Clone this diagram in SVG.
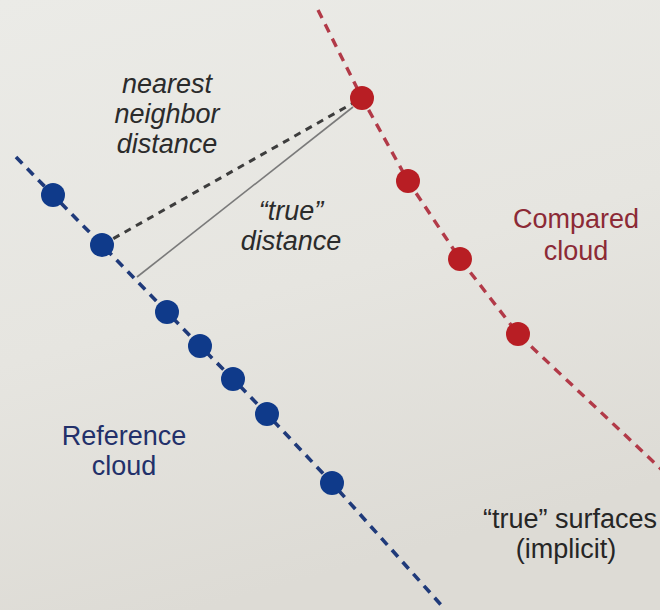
<svg xmlns="http://www.w3.org/2000/svg" width="660" height="610" viewBox="0 0 660 610">
  <defs>
    <linearGradient id="paper" x1="0" y1="0" x2="0.3" y2="1">
      <stop offset="0" stop-color="#ebebe7"/>
      <stop offset="0.55" stop-color="#e6e5e0"/>
      <stop offset="1" stop-color="#dddbd5"/>
    </linearGradient>
    <style>
      .lbl { font-family: "Liberation Sans", Arial, Helvetica, sans-serif; font-size: 27px; text-anchor: middle; }
      .it { font-style: italic; fill: #2b2b2b; }
      .ref { fill: #22306a; }
      .cmp { fill: #8c2a36; }
      .plain { fill: #262626; }
      .surf-ref { fill: none; stroke: #1f3a7a; stroke-width: 3.6; stroke-dasharray: 9 7; stroke-linejoin: round; }
      .surf-cmp { fill: none; stroke: #b23a48; stroke-width: 3.4; stroke-dasharray: 9 7; stroke-linejoin: round; }
      .nn { stroke: #3d3d3d; stroke-width: 3; stroke-dasharray: 7 6; }
      .true-d { stroke: #7a7a7a; stroke-width: 1.6; }
      .pt-ref { fill: #0f3a8a; }
      .pt-cmp { fill: #b81e24; }
    </style>
  </defs>

  <rect width="660" height="610" fill="url(#paper)"/>

  <!-- implicit surfaces and distance lines -->
  <g id="connectors">
    <polyline class="surf-ref" points="16,157 53,195 102,245 167,312 200,346 233,379 267,414 332,483 442,606"/>
    <polyline class="surf-cmp" points="318,10 362,98 408,181 460,259 518,334 662,470"/>
    <line class="nn" x1="102" y1="245" x2="362" y2="98"/>
    <line class="true-d" x1="137" y1="277" x2="353" y2="107"/>
  </g>

  <!-- reference cloud -->
  <g id="reference-cloud">
    <circle class="pt-ref" cx="53" cy="195" r="12"/>
    <circle class="pt-ref" cx="102" cy="245" r="12"/>
    <circle class="pt-ref" cx="167" cy="312" r="12"/>
    <circle class="pt-ref" cx="200" cy="346" r="12"/>
    <circle class="pt-ref" cx="233" cy="379" r="12"/>
    <circle class="pt-ref" cx="267" cy="414" r="12"/>
    <circle class="pt-ref" cx="332" cy="483" r="12"/>
    <text class="lbl ref" x="124" y="445">Reference</text>
    <text class="lbl ref" x="124" y="475">cloud</text>
  </g>

  <!-- compared cloud -->
  <g id="compared-cloud">
    <circle class="pt-cmp" cx="362" cy="98" r="12"/>
    <circle class="pt-cmp" cx="408" cy="181" r="12"/>
    <circle class="pt-cmp" cx="460" cy="259" r="12"/>
    <circle class="pt-cmp" cx="518" cy="334" r="12"/>
    <text class="lbl cmp" x="576" y="228">Compared</text>
    <text class="lbl cmp" x="576" y="260">cloud</text>
  </g>

  <g id="nn-label">
    <text class="lbl it" x="167" y="93">nearest</text>
    <text class="lbl it" x="167" y="123">neighbor</text>
    <text class="lbl it" x="167" y="153">distance</text>
  </g>

  <g id="true-distance-label">
    <text class="lbl it" x="291" y="220">“true”</text>
    <text class="lbl it" x="291" y="250">distance</text>
  </g>

  <g id="surfaces-label">
    <text class="lbl plain" x="570" y="528">“true” surfaces</text>
    <text class="lbl plain" x="566" y="558">(implicit)</text>
  </g>
</svg>
